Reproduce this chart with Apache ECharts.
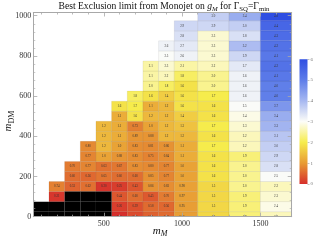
<!DOCTYPE html>
<html><head><meta charset="utf-8">
<script src="https://cdn.jsdelivr.net/npm/echarts@6/dist/echarts.min.js"></script>
<style>html,body{margin:0;padding:0;background:#fff}#c{width:318px;height:244px}</style>
</head><body><div id="c"></div>
<script>
// m_M columns (GeV) and number of excluded (black) cells at the bottom of each column
const mM = [100, 200, 300, 400, 500, 600, 700, 800, 900, 1000, 1200, 1400, 1600];
const blackRows = [2, 2, 3, 3, 3, 0, 0, 0, 0, 0, 0, 0, 0];
const mDMStep = 50;
// best exclusion limit on g_M, per column, from the lowest non-black m_DM upwards (step 50)
const lim100 = [];
const lim200 = [0.21, 0.74];
const lim300 = [0.53, 0.60, 0.70];
const lim400 = [0.62, 0.56, 0.77, 0.77, 0.80];
const lim500 = [0.20, 0.65, 0.63, 1.0, 1.2, 1.2, 1.2];
const lim600 = [0.15, 0.26, 0.44, 0.25, 0.60, 0.67, 0.88, 1.0, 1.1, 1.1, 1.1, 1.6];
const lim700 = [0.35, 0.39, 0.60, 0.43, 0.60, 0.83, 0.83, 0.83, 0.89, 0.73, 1.6, 1.7, 1.8];
const lim800 = [0.51, 0.58, 0.45, 0.86, 0.85, 0.80, 0.75, 0.81, 0.88, 1.0, 1.2, 1.1, 1.6, 2.0, 2.1, 2.1];
const lim900 = [0.58, 0.56, 0.70, 0.83, 0.77, 0.77, 0.84, 0.86, 1.2, 1.2, 1.2, 1.2, 1.4, 1.8, 2.2, 2.3, 2.5, 2.6];
const lim1000 = [0.95, 0.95, 0.97, 0.98, 1.0, 1.0, 1.1, 1.1, 1.2, 1.3, 1.4, 1.6, 1.6, 1.6, 1.8, 2.1, 2.6, 2.7, 2.8, 2.9];
const lim1200 = [1.5, 1.5, 1.5, 1.5, 1.6, 1.6, 1.6, 1.7, 1.6, 1.7, 1.6, 1.6, 1.7, 2.0, 2.0, 2.2, 2.3, 2.3, 2.3, 2.9, 3.0];
const lim1400 = [1.9, 1.9, 1.9, 2.0, 2.0, 2.0, 1.9, 2.2, 2.2, 2.3, 2.4, 2.5, 2.6, 2.6, 2.6, 2.7, 2.9, 3.2, 2.8, 3.0, 3.4];
const lim1600 = [2.2, 2.4, 2.3, 2.2, 2.5, 2.8, 2.9, 3.0, 3.1, 3.3, 3.4, 3.7, 4.0, 4.0, 4.1, 4.2, 4.1, 4.2, 4.3, 4.4, 4.8];
const columns = [lim100, lim200, lim300, lim400, lim500, lim600, lim700, lim800, lim900, lim1000, lim1200, lim1400, lim1600];
// axis ticks
const xMajor = [500, 1000, 1500];
const xMinor = [100, 200, 300, 400, 600, 700, 800, 900, 1100, 1200, 1300, 1400, 1600, 1700];
const yMajor = [0, 200, 400, 600, 800, 1000];
const legendTicks = [0, 1, 2, 3, 4, 5, 6];
const palette = ['#d62f2c', '#e89b34', '#f6ec4c', '#fdfdf8', '#a7b8f1', '#5e7de9', '#2f4ee2'];

const serif = 'Liberation Serif';
const cells = [], blacks = [];
mM.forEach((m, i) => {
  const left = i === 0 ? m - (mM[1] - mM[0]) / 2 : (mM[i - 1] + m) / 2;
  const right = i === mM.length - 1 ? m + (m - mM[i - 1]) / 2 : (m + mM[i + 1]) / 2;
  for (let k = 0; k < blackRows[i]; k++) blacks.push([m, k * mDMStep, 0, left, right]);
  columns[i].forEach((v, k) => cells.push([m, (blackRows[i] + k) * mDMStep, v, left, right]));
});
const vals = cells.map(c => c[2]);

function cellRect(api) {
  const y = api.value(1);
  const p0 = api.coord([api.value(3), y + mDMStep / 2]);
  const p1 = api.coord([api.value(4), y - mDMStep / 2]);
  return { x: p0[0], y: p0[1], width: p1[0] - p0[0], height: p1[1] - p0[1] };
}

const chart = echarts.init(document.getElementById('c'), null, { renderer: 'canvas' });
const frame = '#a8a8a8';
const plain = v => String(v);
const baseX = (pos, ticks, len, showLine, showLabel) => ({
  type: 'value', gridIndex: 0, position: pos, min: 50, max: 1700, z: 5,
  axisLine: { show: showLine, onZero: false, lineStyle: { color: frame, width: 1 } },
  axisTick: { show: true, inside: true, length: len, customValues: ticks, lineStyle: { color: frame, width: 0.8 } },
  axisLabel: showLabel ? { show: true, customValues: ticks, formatter: plain, fontSize: 8, fontFamily: serif, color: '#333', margin: 3 } : { show: false },
  splitLine: { show: false }
});
const baseY = (pos, showLabel) => ({
  type: 'value', gridIndex: 0, position: pos, min: 0, max: 1016, interval: 200, z: 5,
  axisLine: { show: true, onZero: false, lineStyle: { color: frame, width: 1 } },
  axisTick: { show: true, inside: true, length: 4, lineStyle: { color: frame, width: 0.8 } },
  minorTick: { show: true, splitNumber: 5, length: 2, lineStyle: { color: frame, width: 0.6 } },
  axisLabel: showLabel ? { show: true, fontSize: 8, fontFamily: serif, color: '#333', margin: 2, customValues: yMajor, formatter: plain } : { show: false },
  splitLine: { show: false }, minorSplitLine: { show: false }
});

chart.setOption({
  animation: false,
  grid: [
    { left: 33.3, top: 12.5, width: 258.4, height: 204.2 },
    { left: 299.5, top: 59.3, width: 8, height: 124.7 }
  ],
  xAxis: [
    baseX('bottom', xMajor, 4, true, true),
    baseX('bottom', xMinor, 2, false, false),
    baseX('top', xMajor, 4, true, false),
    baseX('top', xMinor, 2, false, false),
    { type: 'value', gridIndex: 1, min: 0, max: 1, show: false }
  ],
  yAxis: [
    baseY('left', true),
    baseY('right', false),
    { type: 'value', gridIndex: 1, position: 'right', min: 0, max: 6, interval: 1,
      axisLine: { show: false, onZero: false },
      axisTick: { show: true, length: 2, lineStyle: { color: '#999', width: 0.6 } },
      axisLabel: { show: true, fontSize: 5, fontFamily: serif, color: '#777', margin: 3, customValues: legendTicks },
      splitLine: { show: false } }
  ],
  visualMap: [{
    type: 'continuous', show: false, seriesIndex: 0, dimension: 2,
    min: Math.min(...vals), max: Math.max(...vals), inRange: { color: palette }
  }],
  series: [
    { type: 'custom', xAxisIndex: 0, yAxisIndex: 0, clip: true, z: 2, data: cells,
      renderItem: (params, api) => {
        const c = api.coord([api.value(0), api.value(1)]);
        return { type: 'group', children: [
          { type: 'rect', shape: cellRect(api), style: { fill: api.visual('color'), stroke: 'rgba(0,0,0,0.12)', lineWidth: 0.5 } },
          { type: 'text', x: c[0], y: c[1], style: { text: api.value(2).toPrecision(2), fontSize: 3.1, fontFamily: serif, fill: '#333', align: 'center', verticalAlign: 'middle' } }
        ] };
      } },
    { type: 'custom', xAxisIndex: 0, yAxisIndex: 0, clip: true, z: 2, data: blacks,
      renderItem: (params, api) => ({ type: 'rect', shape: cellRect(api), style: { fill: '#000' } }) },
    { type: 'custom', xAxisIndex: 4, yAxisIndex: 2, data: [[0, legendTicks[legendTicks.length - 1]]],
      renderItem: (params, api) => {
        const p0 = api.coord([0, api.value(1)]);
        const p1 = api.coord([1, api.value(0)]);
        return { type: 'rect', shape: { x: p0[0], y: p0[1], width: p1[0] - p0[0], height: p1[1] - p0[1] },
          style: { fill: new echarts.graphic.LinearGradient(0, 1, 0, 0, palette.map((col, i) => ({ offset: i / (palette.length - 1), color: col }))) } };
      } }
  ],
  graphic: [
    { type: 'text', x: 164, y: 6, style: {
      text: '{n|Best Exclusion limit from Monojet on }{i|g}{si|M}{n| for Γ}{s|SQ}{n|=Γ}{s|min}',
      align: 'center', verticalAlign: 'middle', fontFamily: serif, fontSize: 9.6,
      rich: {
        n: { fontSize: 9.6, fontFamily: serif, lineHeight: 13, fill: '#111' },
        i: { fontSize: 9.6, fontFamily: serif, fontStyle: 'italic', lineHeight: 13, fill: '#111' },
        si: { fontSize: 6.8, fontFamily: serif, fontStyle: 'italic', lineHeight: 7, verticalAlign: 'bottom', fill: '#111' },
        s: { fontSize: 6.8, fontFamily: serif, lineHeight: 7, verticalAlign: 'bottom', fill: '#111' }
      } } },
    { type: 'text', x: 160, y: 231, style: {
      text: '{i|m}{si|M}', align: 'center', verticalAlign: 'middle', fontFamily: serif, fontSize: 11,
      rich: {
        i: { fontSize: 11, fontFamily: serif, fontStyle: 'italic', lineHeight: 14, fill: '#111' },
        si: { fontSize: 8, fontFamily: serif, fontStyle: 'italic', lineHeight: 8, verticalAlign: 'bottom', fill: '#111' }
      } } },
    { type: 'text', x: 8.5, y: 121, rotation: Math.PI / 2, style: {
      text: '{i|m}{s|DM}', align: 'center', verticalAlign: 'middle', fontFamily: serif, fontSize: 11,
      rich: {
        i: { fontSize: 11, fontFamily: serif, fontStyle: 'italic', lineHeight: 14, fill: '#111' },
        s: { fontSize: 8, fontFamily: serif, lineHeight: 8, verticalAlign: 'bottom', fill: '#111' }
      } } }
  ]
});
</script></body></html>
